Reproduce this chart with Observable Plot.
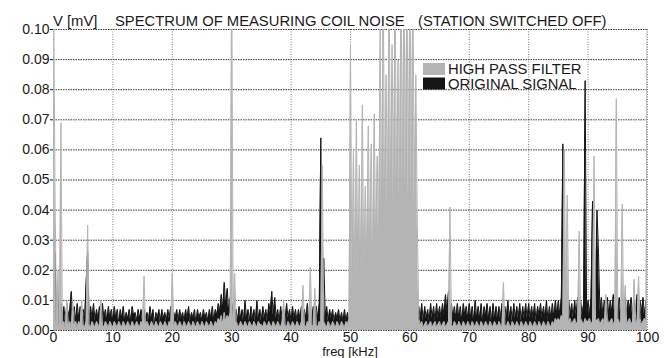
<!DOCTYPE html>
<html><head><meta charset="utf-8">
<script src="https://cdn.jsdelivr.net/npm/d3@7"></script>
<script src="https://cdn.jsdelivr.net/npm/@observablehq/plot@0.6"></script>
<style>body{margin:0;background:#fff}#chart{position:relative;width:672px;height:358px}</style>
</head><body><div id="chart"></div>
<script>
// Frequency grid step (kHz); values below are in µV (0.001 mV), one per 0.25 kHz, 0..100 kHz
const freqStep = 0.25;
const originalSignal = [
  5,26,4,12,3,9,4,8,3,9,5,7,13,4,8,3,9,4,8,3,
  7,4,16,26,3,8,4,9,3,7,4,8,3,9,4,7,3,8,4,7,
  3,8,4,7,2,7,4,8,3,6,4,7,3,8,5,6,3,7,4,7,
  3,7,4,6,3,8,4,7,2,6,4,7,3,7,4,6,3,7,4,8,
  3,6,4,7,3,7,4,6,3,7,4,8,3,6,4,7,2,7,4,6,
  3,7,4,6,3,7,4,8,3,7,5,9,6,12,7,16,8,14,6,11,
  5,9,3,7,3,8,4,7,3,10,4,7,3,8,4,7,3,10,4,7,
  3,8,4,7,3,9,6,13,5,11,4,7,3,8,4,7,3,9,4,7,
  3,8,4,7,3,7,4,8,3,7,4,9,3,7,4,8,3,8,4,9,
  64,4,24,5,8,3,7,4,7,3,6,4,7,3,6,3,7,3,6,3,
  2,1,2,1,2,1,3,1,2,1,2,1,2,1,3,1,2,1,2,1,
  2,1,2,1,3,1,2,1,2,1,2,1,3,1,2,1,2,1,2,1,
  2,1,2,1,2,3,8,4,9,3,8,4,7,3,9,4,8,3,9,4,
  8,4,9,5,12,6,13,5,9,4,8,4,9,4,8,3,9,5,8,4,
  9,4,8,3,10,4,8,4,9,3,8,5,9,4,8,3,9,4,8,4,
  8,4,9,3,8,4,10,4,8,3,9,4,8,4,9,3,8,4,9,4,
  9,4,8,4,9,3,8,5,9,4,8,4,10,3,8,4,9,4,10,5,
  10,5,11,62,6,10,4,10,5,9,4,10,5,11,4,10,5,9,83,5,
  10,5,11,43,5,10,40,26,6,11,5,10,6,11,5,10,6,12,5,10,
  6,11,5,10,6,11,5,10,7,11,5,10,6,12,5,10,6,11,5,10,
  6
];
const highPassFilter = [
  120,48,2,20,1,69,2,3,1,10,2,3,1,9,2,3,1,3,2,10,
  2,1,3,35,2,1,3,2,1,3,2,1,10,2,1,3,2,1,3,2,
  1,3,2,1,3,2,1,3,2,1,3,2,1,3,2,1,3,2,1,3,
  2,18,1,3,2,1,3,2,1,3,2,1,3,2,1,3,2,1,3,2,
  19,1,3,2,1,3,2,1,3,2,1,3,2,1,3,2,1,3,2,1,
  3,2,1,3,2,1,3,2,1,3,2,4,3,5,2,6,3,5,4,6,
  120,4,19,3,2,1,3,2,1,3,2,1,3,2,1,3,2,1,3,2,
  2,1,3,2,1,3,2,1,3,2,1,3,2,1,3,10,2,1,3,2,
  1,3,2,1,3,2,1,3,15,2,1,3,2,21,2,1,14,2,1,3,
  2,55,3,2,1,3,2,1,3,2,1,3,2,1,3,2,1,3,2,4,
  95,12,60,14,70,16,55,18,75,15,48,22,68,24,62,20,72,26,58,28,
  100,34,120,38,85,36,120,42,95,40,120,45,90,44,120,46,120,48,120,44,
  120,46,120,42,85,36,4,2,3,1,2,3,1,2,3,1,2,3,1,2,
  3,1,2,3,1,2,3,41,2,1,3,2,1,3,2,1,3,2,1,3,
  2,1,3,2,1,3,2,1,3,2,1,3,2,1,3,2,1,3,2,1,
  3,2,1,16,2,1,3,2,1,3,2,1,3,2,1,3,2,1,3,2,
  1,3,2,1,3,2,1,3,2,1,3,2,1,3,2,1,3,2,4,3,
  4,3,5,4,60,4,45,3,4,2,3,4,2,3,33,4,3,2,4,3,
  3,4,2,3,58,4,3,4,2,3,4,2,12,4,2,3,4,2,3,77,
  4,3,2,42,3,15,2,3,4,2,3,17,4,2,18,4,2,3,4,3,
  120
];
const xTicks = [0,10,20,30,40,50,60,70,80,90,100];
const yTicks = [0,0.01,0.02,0.03,0.04,0.05,0.06,0.07,0.08,0.09,0.10];
const seriesNames = ["HIGH PASS FILTER","ORIGINAL SIGNAL"];
const seriesColors = ["#b4b4b4","#151515"];
const titleParts = ["V [mV]","SPECTRUM OF MEASURING COIL NOISE","(STATION SWITCHED OFF)"];
const xLabel = "freq [kHz]";

const toRows = arr => arr.map((v,i)=>({f:i*freqStep, v:v/1000}));
const origRows = toRows(originalSignal);
const hpRows = toRows(highPassFilter);

const font = "'Liberation Sans', Arial, Helvetica, sans-serif";
const svg = Plot.plot({
  width:672, height:358,
  marginLeft:53, marginRight:25, marginTop:29, marginBottom:28,
  x:{domain:[0,100]}, y:{domain:[0,0.1]},
  style:{fontFamily:font, fontSize:"14px", background:"#fff", color:"#1a1a1a"},
  marks:[
    Plot.ruleX(xTicks,{stroke:"#7a7a7a", strokeDasharray:"1,1.5"}),
    Plot.ruleY(yTicks,{stroke:"#3a3a3a", strokeDasharray:"1.5,1"}),
    Plot.areaY(origRows,{x:"f", y:"v", fill:seriesColors[1], clip:true}),
    Plot.line(origRows,{x:"f", y:"v", stroke:seriesColors[1], strokeWidth:1, clip:true}),
    Plot.areaY(hpRows,{x:"f", y:"v", fill:seriesColors[0], clip:true}),
    Plot.line(hpRows,{x:"f", y:"v", stroke:seriesColors[0], strokeWidth:1, clip:true}),
    Plot.axisY(yTicks,{tickFormat:d=>d.toFixed(2), tickSize:3, tickPadding:1, label:null, fontSize:14}),
    Plot.axisX(xTicks,{tickSize:0, tickPadding:2, label:null, fontSize:14})
  ]
});
document.getElementById("chart").appendChild(svg);

const s = d3.select(svg);
const xs = svg.scale("x");
// title
const tx = [53,115,418];
titleParts.forEach((t,i)=>{
  s.append("text").attr("x",tx[i]).attr("y",26).attr("text-anchor","start").attr("font-family",font)
   .attr("font-size",14.8).attr("fill","#1a1a1a").text(t);
});
// x label
s.append("text").attr("x",xs.apply(50)).attr("y",356).attr("text-anchor","middle")
 .attr("font-family",font).attr("font-size",13).attr("fill","#1a1a1a").text(xLabel);
// legend
seriesNames.forEach((n,i)=>{
  s.append("rect").attr("x",423).attr("y",63+i*14.5).attr("width",22).attr("height",12)
   .attr("fill",seriesColors[i]);
  s.append("text").attr("x",448).attr("y",74+i*15).attr("text-anchor","start").attr("font-family",font)
   .attr("font-size",14.8).attr("fill","#1a1a1a").text(n);
});
</script></body></html>
